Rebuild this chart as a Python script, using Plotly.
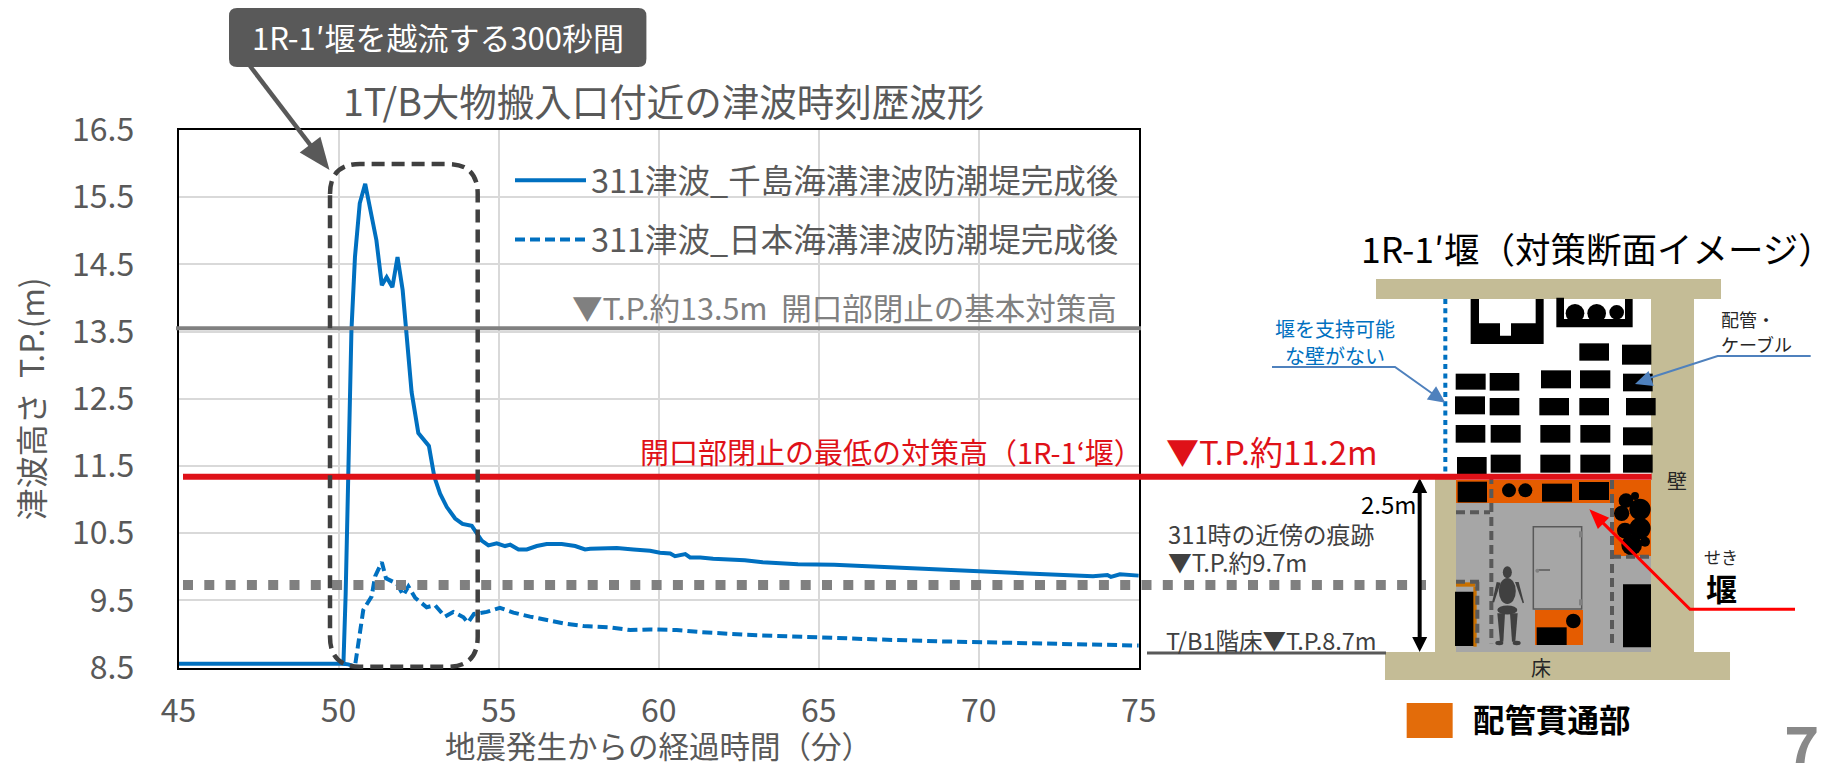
import plotly.graph_objects as go

W, H = 1825, 763
JP = "Noto Sans CJK JP"

# ---------- chart data ----------
time_chishima = [45, 47.5, 50, 50.15, 50.22, 50.3, 50.4, 50.51, 50.66, 50.83, 51.0, 51.18, 51.35, 51.5, 51.68, 51.84,
                 52.0, 52.12, 52.28, 52.49, 52.82, 52.99, 53.17, 53.38, 53.64, 53.87, 54.16, 54.47, 54.68, 54.94,
                 55.2, 55.36, 55.62, 55.88, 56.19, 56.5, 56.97, 57.39, 57.7, 57.86, 58.69, 59.21, 59.73, 60.04,
                 60.36, 60.51, 60.83, 60.98, 61.3, 61.7, 62.69, 63.25, 64.35, 65.48, 66.87, 67.99, 68.69, 69.94,
                 71.06, 72.32, 73.57, 74.02, 74.13, 74.41, 75.0]
level_chishima = [8.56, 8.56, 8.55, 8.56, 9.6, 11.49, 13.52, 14.61, 15.41, 15.70, 15.26, 14.86, 14.19, 14.31, 14.16, 14.61,
                  14.12, 13.52, 12.6, 11.99, 11.80, 11.34, 11.09, 10.89, 10.72, 10.64, 10.61, 10.39, 10.32, 10.35,
                  10.31, 10.33, 10.26, 10.26, 10.31, 10.34, 10.34, 10.31, 10.26, 10.27, 10.28, 10.26, 10.24, 10.21,
                  10.20, 10.16, 10.19, 10.14, 10.14, 10.12, 10.10, 10.07, 10.04, 10.03, 10.00, 9.98, 9.96, 9.93,
                  9.90, 9.88, 9.86, 9.88, 9.85, 9.89, 9.87]
time_japan = [50.15, 50.3, 50.51, 50.62, 50.77, 51.03, 51.14, 51.35, 51.48, 51.82, 52.02, 52.18, 52.39, 52.75, 53.01,
              53.32, 53.58, 53.9, 54.04, 54.23, 54.63, 55.04, 55.46, 55.98, 56.61, 57.02, 57.65, 58.48, 59.11,
              59.73, 60.56, 61.3, 62.69, 64.78, 66.87, 68.97, 71.06, 73.15, 75.0]
level_japan = [8.56, 8.55, 8.52, 8.87, 9.36, 9.56, 9.86, 10.07, 9.83, 9.75, 9.58, 9.71, 9.54, 9.40, 9.43,
               9.26, 9.33, 9.25, 9.17, 9.30, 9.33, 9.39, 9.32, 9.26, 9.20, 9.16, 9.12, 9.10, 9.06,
               9.07, 9.06, 9.03, 8.99, 8.95, 8.92, 8.89, 8.87, 8.85, 8.83]
series_names = ["311津波_千島海溝津波防潮堤完成後", "311津波_日本海溝津波防潮堤完成後"]
x_ticks = [45, 50, 55, 60, 65, 70, 75]
y_ticks = [8.5, 9.5, 10.5, 11.5, 12.5, 13.5, 14.5, 15.5, 16.5]
level_basic = 13.55
level_min = 11.34
level_mark = 9.73

# ---------- plot frame (pixels) ----------
L, R, T, B = 178.6, 1138.8, 130.0, 667.7


def X(p):
    return p / W


def Y(p):
    return 1 - p / H


fig = go.Figure()
fig.add_trace(go.Scatter(x=time_chishima, y=level_chishima, mode="lines", name=series_names[0], legendgroup="a",
                         line=dict(color="#0070C0", width=4)))
fig.add_trace(go.Scatter(x=time_japan, y=level_japan, mode="lines", name=series_names[1], legendgroup="b",
                         line=dict(color="#0070C0", width=4, dash="10px,5px")))

shapes = []
annos = []


def poly(points, fill=None, line=None, lw=0, dash=None, close=True):
    d = "M " + " L ".join(f"{X(a):.5f} {Y(b):.5f}" for a, b in points) + (" Z" if close else "")
    s = dict(type="path", xref="paper", yref="paper", path=d, layer="above",
             line=dict(color=line or "rgba(0,0,0,0)", width=lw))
    if dash:
        s["line"]["dash"] = dash
    if fill:
        s["fillcolor"] = fill
    shapes.append(s)


def rect(x0, y0, x1, y1, fill=None, line=None, lw=0):
    poly([(x0, y0), (x1, y0), (x1, y1), (x0, y1)], fill=fill, line=line, lw=lw)


def ell(cx, cy, rx, ry, fill):
    shapes.append(dict(type="circle", xref="paper", yref="paper", layer="above",
                       x0=X(cx - rx), x1=X(cx + rx), y0=Y(cy + ry), y1=Y(cy - ry),
                       fillcolor=fill, line=dict(width=0)))


def seg(x0, y0, x1, y1, color, lw, dash=None):
    poly([(x0, y0), (x1, y1)], line=color, lw=lw, dash=dash, close=False)


def head(x0, y0, x1, y1, size, width, color):
    dx, dy = x1 - x0, y1 - y0
    n = (dx * dx + dy * dy) ** 0.5
    ux, uy = dx / n, dy / n
    bx, by = x1 - ux * size, y1 - uy * size
    poly([(x1, y1), (bx - uy * width, by + ux * width), (bx + uy * width, by - ux * width)], fill=color)


def txt(x, y, s, size, color="#595959", anchor="center", bold=False):
    annos.append(dict(xref="paper", yref="paper", x=X(x), y=Y(y), text=f"<b>{s}</b>" if bold else s,
                      showarrow=False, xanchor=anchor, yanchor="middle",
                      font=dict(family=JP, size=size, color=color)))


def zx(v):
    return 1340 + v / 3


def z3(v):
    return 220 + v / 3


def z4(v):
    return 460 + v / 3


# ---------- reference levels ----------
shapes.append(dict(type="line", xref="paper", yref="y", x0=X(176), x1=X(1141), y0=level_basic, y1=level_basic,
                   layer="above", line=dict(color="#808080", width=4)))
shapes.append(dict(type="line", xref="paper", yref="y", x0=X(183), x1=X(1426), y0=level_mark, y1=level_mark,
                   layer="above", line=dict(color="#808080", width=10, dash="10px,11.3px")))

# ---------- cross-section illustration ----------
C = "#C4BC96"
GR = "#A6A6A6"
OR = "#E55C00"
rect(zx(108), 279, zx(1143), 299, C)
rect(zx(933), 299, zx(1062), 652, C)
rect(zx(285), 476, zx(348), 652, C)
rect(zx(135), 652, zx(1170), 680, C)
rect(zx(348), 480, zx(933), 652, GR)
rect(zx(348), 480, zx(933), 503, OR)
rect(zx(822), 503, zx(933), 556, OR)
rect(zx(585), z4(450), zx(729), z4(555), OR)

for b in [(718, 370, 807, 422), (846, 374, 934, 434), (347, 461, 437, 509), (449, 459, 538, 512),
          (603, 451, 693, 505), (720, 451, 811, 505), (849, 461, 938, 514), (345, 529, 435, 583),
          (449, 534, 538, 586), (598, 534, 687, 586), (718, 534, 807, 586), (858, 534, 947, 586),
          (347, 615, 436, 668), (452, 615, 542, 668), (601, 615, 691, 668), (721, 615, 811, 668),
          (849, 622, 938, 676), (351, 711, 440, 762), (452, 704, 542, 758), (601, 704, 691, 758),
          (721, 704, 811, 758), (849, 704, 938, 758)]:
    rect(zx(b[0]), z3(b[1]), zx(b[2]), z3(b[3]), "#000000")
poly([(zx(a), z3(b)) for a, b in [(392, 237), (417, 237), (417, 310), (480, 310), (480, 347), (513, 347), (513, 310),
                                  (587, 310), (587, 237), (611, 237), (611, 372), (392, 372)]], fill="#000000")
poly([(zx(a), z3(b)) for a, b in [(649, 233), (672, 233), (672, 297), (855, 297), (855, 237), (878, 237),
                                  (878, 322), (649, 322)]], fill="#000000")
for cx, cy, r in [(705, 280, 28), (770, 280, 28), (830, 277, 22)]:
    ell(zx(cx), z3(cy), r / 3, r / 3, "#000000")
for b in [(353, 65, 441, 127), (606, 71, 696, 125), (717, 66, 807, 120), (590, 502, 680, 555), (849, 373, 933, 562),
          (345, 395, 405, 558)]:
    rect(zx(b[0]), z4(b[1]), zx(b[2]), z4(b[3]), "#000000")
rect(zx(348), z4(367), zx(405), z4(380), "#C87000")
rect(zx(400), z4(380), zx(410), z4(560), "#C87000")
for cx, cy, r in [(507, 91, 21), (556, 91, 21), (700, 483, 22), (858, 122, 22), (885, 108, 12), (900, 148, 32),
                  (845, 160, 23), (900, 205, 32), (855, 212, 24), (915, 245, 15), (875, 255, 31)]:
    ell(zx(cx), z4(cy), r / 3, r / 3, "#000000")
DG = "#595959"
seg(zx(454), z4(45), zx(454), z4(550), DG, 4, "9px,5px")
seg(zx(816), z4(60), zx(816), z4(555), DG, 4, "9px,5px")
seg(zx(348), z4(157), zx(450), z4(157), DG, 4, "9px,5px")
seg(zx(816), z4(290), zx(933), z4(290), DG, 4, "9px,5px")
seg(zx(348), z4(365), zx(430), z4(365), DG, 4, "9px,5px")
seg(zx(412), z4(365), zx(412), z4(550), DG, 4, "9px,5px")
# door
rect(zx(580), z4(200), zx(725), z4(447), GR, "#595959", 1.5)
rect(zx(717), z4(214), zx(728), z4(232), "#808080")
rect(zx(717), z4(418), zx(728), z4(436), "#808080")
seg(zx(592), z4(330), zx(630), z4(330), "#595959", 1.5)
ell(zx(592), z4(332), 2, 2, "#808080")
# person
P = "#404040"
ell(zx(502), z4(337), 4.5, 6, P)
ell(zx(502), z4(393), 8.5, 13, P)
ell(zx(502), z4(450), 10, 4.5, P)
poly([(zx(a), z4(b)) for a, b in [(472, 460), (495, 460), (490, 545), (480, 545)]], fill=P)
poly([(zx(a), z4(b)) for a, b in [(510, 460), (533, 460), (526, 545), (516, 545)]], fill=P)
ell(zx(478), z4(549), 4, 2.2, P)
ell(zx(530), z4(549), 4, 2.2, P)
poly([(zx(a), z4(b)) for a, b in [(470, 366), (482, 368), (462, 428), (457, 424)]], fill=P)
poly([(zx(a), z4(b)) for a, b in [(525, 366), (536, 366), (552, 428), (548, 430)]], fill=P)

# annotation lines of illustration
seg(zx(316), 299, zx(316), 478, "#0070C0", 4, "5px,4.3px")
poly([(1272, 367), (zx(165), 367), (zx(300), 399)], line="#4F81BD", lw=2, close=False)
head(zx(165), 367, zx(316), 402.7, 17, 8, "#4F81BD")
poly([(zx(1412), 356), (zx(1133), 356), (zx(910), 380)], line="#4F81BD", lw=2, close=False)
head(zx(1133), 356, zx(885), 384, 17, 8, "#4F81BD")
seg(zx(239), 490, zx(239), 642, "#000000", 4)
head(zx(239), 510, zx(239), 478, 15, 7.5, "#000000")
head(zx(239), 620, zx(239), 652, 15, 7.5, "#000000")
seg(1147, 653, 1386, 653, "#595959", 3)
poly([(zx(1365), z4(448)), (zx(1050), z4(448)), (zx(770), z4(170))], line="#FF0000", lw=3, close=False)
head(zx(1050), z4(448), zx(748), z4(148), 20, 8, "#FF0000")
rect(zx(200), 703, zx(338), 738, "#E36C0A")

# min-height line on top of everything in the illustration
shapes.append(dict(type="line", xref="paper", yref="y", x0=X(183), x1=X(zx(935)), y0=level_min, y1=level_min,
                   layer="above", line=dict(color="#DF1118", width=6)))

# ---------- callout and dashed box ----------
bx0, bx1, by0, by1, r = 330, 477.7, 164, 666.7, 30
d = (f"M {X(bx0)} {Y(by0 + r)} Q {X(bx0)} {Y(by0)} {X(bx0 + r)} {Y(by0)} L {X(bx1 - r)} {Y(by0)} "
     f"Q {X(bx1)} {Y(by0)} {X(bx1)} {Y(by0 + r)} L {X(bx1)} {Y(by1 - r)} Q {X(bx1)} {Y(by1)} {X(bx1 - r)} {Y(by1)} "
     f"L {X(bx0 + r)} {Y(by1)} Q {X(bx0)} {Y(by1)} {X(bx0)} {Y(by1 - r)} Z")
shapes.append(dict(type="path", xref="paper", yref="paper", path=d, layer="above",
                   line=dict(color="#404040", width=4.5, dash="13px,7px")))
cx0, cx1, cy0, cy1, cr = 229, 646.4, 8, 67, 8
d = (f"M {X(cx0)} {Y(cy0 + cr)} Q {X(cx0)} {Y(cy0)} {X(cx0 + cr)} {Y(cy0)} L {X(cx1 - cr)} {Y(cy0)} "
     f"Q {X(cx1)} {Y(cy0)} {X(cx1)} {Y(cy0 + cr)} L {X(cx1)} {Y(cy1 - cr)} Q {X(cx1)} {Y(cy1)} {X(cx1 - cr)} {Y(cy1)} "
     f"L {X(cx0 + cr)} {Y(cy1)} Q {X(cx0)} {Y(cy1)} {X(cx0)} {Y(cy1 - cr)} Z")
shapes.append(dict(type="path", xref="paper", yref="paper", path=d, layer="above", fillcolor="#595959",
                   line=dict(width=0)))
seg(250, 66, 318, 155, "#595959", 4.5)
head(250, 66, 329.5, 170, 32, 13, "#595959")

# ---------- text ----------
txt(437.5, 37, "1R-1′堰を越流する300秒間", 31, "#FFFFFF")
txt(663, 100, "1T/B大物搬入口付近の津波時刻歴波形", 37.5)
txt(658, 745, "地震発生からの経過時間（分）", 30.5)
txt(844, 307, "▼T.P.約13.5m&#160;&#160;開口部閉止の基本対策高", 30.5, "#808080")
txt(891, 451, "開口部閉止の最低の対策高（1R-1‘堰）", 29, "#DF1118")
txt(1272, 451, "▼T.P.約11.2m", 33, "#DF1118")
txt(1166, 533, "311時の近傍の痕跡", 23.8, "#404040", "left")
txt(1166, 561, "▼T.P.約9.7m", 23.8, "#404040", "left")
txt(1164, 640, "T/B1階床▼T.P.8.7m", 23.5, "#404040", "left")
txt(1597, 248, "1R-1′堰（対策断面イメージ）", 35.5, "#000000")
txt(1335, 328, "堰を支持可能", 20, "#0070C0")
txt(1335, 355, "な壁がない", 20, "#0070C0")
txt(1719, 319, "配管・", 18, "#262626", "left")
txt(1719, 344, "ケーブル", 18, "#262626", "left")
txt(zx(1012), 480, "壁", 20, "#262626")
txt(zx(603), 667, "床", 20, "#262626")
txt(zx(148), 503, "2.5m", 24, "#000000")
txt(1721, 556, "せき", 17, "#262626")
txt(1721, 587, "堰", 31, "#000000", bold=True)
txt(1471, 718, "配管貫通部", 31.5, "#000000", "left", bold=True)
txt(zx(1385), 743, "7", 60, "#898989", bold=True)

axis_font = dict(family=JP, size=32, color="#595959")
fig.update_layout(
    width=W, height=H, autosize=False,
    margin=dict(l=0, r=0, t=0, b=0, autoexpand=False),
    paper_bgcolor="white", plot_bgcolor="white",
    showlegend=True,
    legend=dict(x=X(510), y=Y(152.5), xanchor="left", yanchor="top", bgcolor="rgba(0,0,0,0)",
                font=dict(family=JP, size=32.5, color="#595959"), itemwidth=71, tracegroupgap=14),
    xaxis=dict(domain=[X(L), X(R)], range=[45, 75], tickvals=x_ticks, ticktext=[str(v) for v in x_ticks],
               showgrid=True, gridcolor="#D9D9D9", gridwidth=2, zeroline=False,
               showline=True, linecolor="#000000", linewidth=2, mirror=True, ticks="",
               tickfont=axis_font, ticklabelstandoff=14),
    yaxis=dict(domain=[Y(B), Y(T)], range=[8.5, 16.5], tickvals=y_ticks, ticktext=[f"{v:.1f}" for v in y_ticks],
               showgrid=True, gridcolor="#D9D9D9", gridwidth=2, zeroline=False,
               showline=True, linecolor="#000000", linewidth=2, mirror=True, ticks="",
               tickfont=axis_font, ticklabelstandoff=36,
               title=dict(text="津波高さ&#160;&#160;T.P.(m)", font=dict(family=JP, size=32, color="#595959"), standoff=18)),
    shapes=shapes, annotations=annos,
)

fig.write_html("out.html", config={"displayModeBar": False},
               post_script="document.body.style.margin='0';document.body.style.overflow='hidden';")
